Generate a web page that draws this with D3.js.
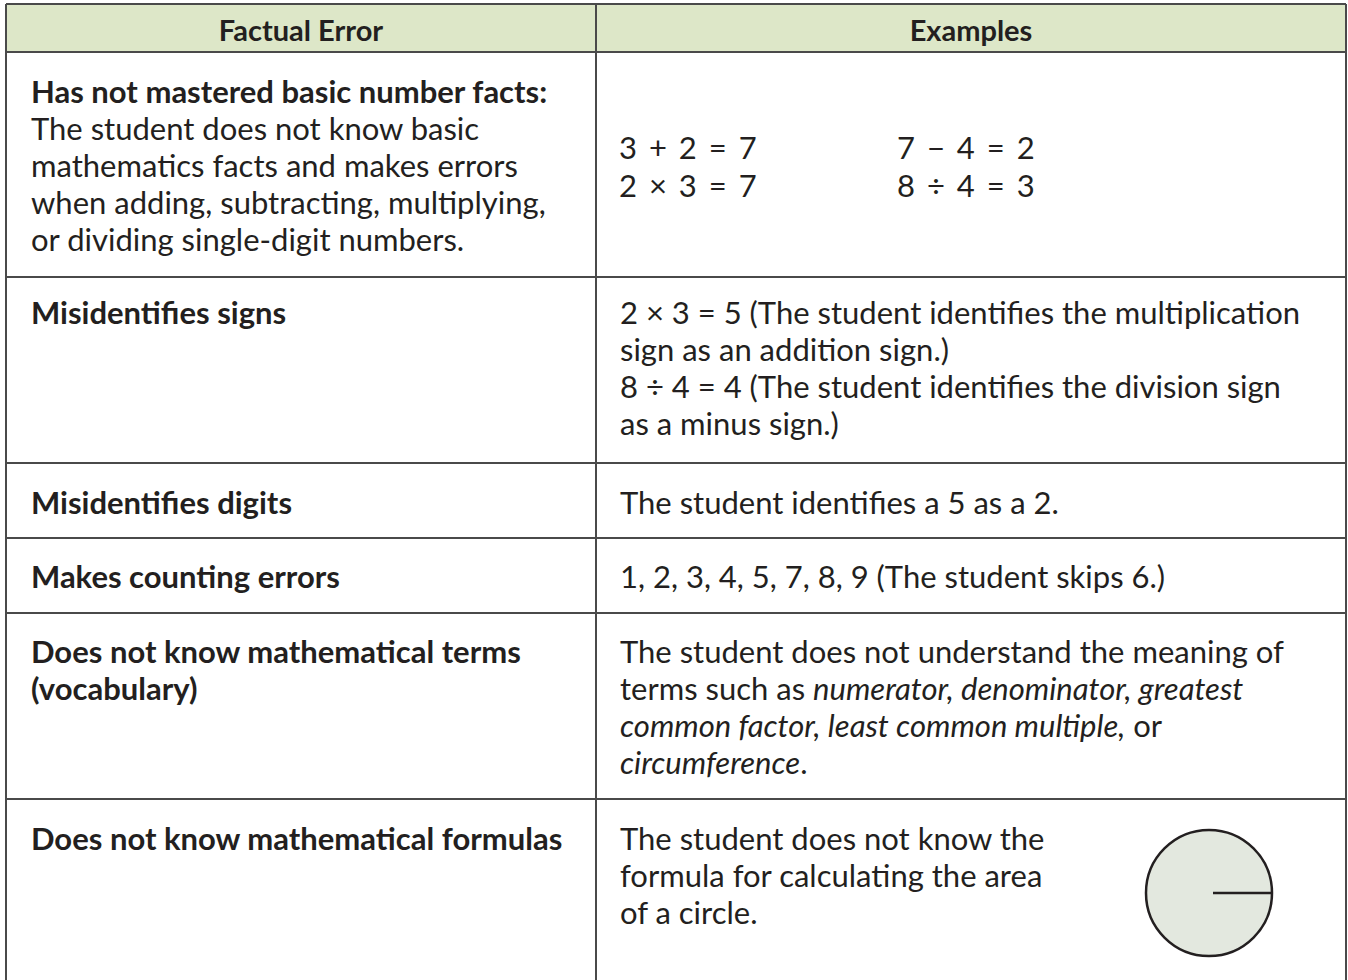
<!DOCTYPE html>
<html>
<head>
<meta charset="utf-8">
<script src="https://cdn.jsdelivr.net/npm/d3@7"></script>
<style>
  html, body { margin: 0; padding: 0; background: #fff; }
  svg { display: block; }
</style>
</head>
<body>
<div id="table"></div>
<script>
// table content
const headers = ["Factual Error", "Examples"];

const errorTitles = [
    ["Has not mastered basic number facts:"],
    ["Misidentifies signs"],
    ["Misidentifies digits"],
    ["Makes counting errors"],
    ["Does not know mathematical terms", "(vocabulary)"],
    ["Does not know mathematical formulas"]
];

const errorNotes = [
    ["The student does not know basic",
     "mathematics facts and makes errors",
     "when adding, subtracting, multiplying,",
     "or dividing single-digit numbers."],
    [], [], [], [], []
];

// *...* marks italic words
const exampleLines = [
    [],
    ["2 × 3 = 5 (The student identifies the multiplication",
     "sign as an addition sign.)",
     "8 ÷ 4 = 4 (The student identifies the division sign",
     "as a minus sign.)"],
    ["The student identifies a 5 as a 2."],
    ["1, 2, 3, 4, 5, 7, 8, 9 (The student skips 6.)"],
    ["The student does not understand the meaning of",
     "terms such as *numerator, denominator, greatest*",
     "*common factor, least common multiple,* or",
     "*circumference*."],
    ["The student does not know the",
     "formula for calculating the area",
     "of a circle."]
];

const factLeft = ["3 + 2 = 7", "2 × 3 = 7"];
const factRight = ["7 − 4 = 2", "8 ÷ 4 = 3"];

// layout
const width = 1348, height = 980;
const rowEdges = [4, 52, 277, 463, 538, 613, 799, 995];
const colEdges = [6, 596, 1346];
const firstBaseline = [103, 324, 514, 588, 663, 850];
const lineH = 37;
const ink = "#231f20";
const font = "Lato, 'Open Sans', sans-serif";

const svg = d3.select("#table")
    .append("svg")
    .attr("width", width)
    .attr("height", height);

// header band
svg.append("rect")
    .attr("x", colEdges[0]).attr("y", rowEdges[0])
    .attr("width", colEdges[2] - colEdges[0])
    .attr("height", rowEdges[1] - rowEdges[0])
    .attr("fill", "#dde7c8");

svg.selectAll(".head")
    .data(headers)
    .enter()
    .append("text")
    .attr("class", "head")
    .attr("x", (d, i) => (colEdges[i] + colEdges[i + 1]) / 2)
    .attr("y", 41)
    .attr("text-anchor", "middle")
    .attr("font-family", font)
    .attr("font-weight", 700)
    .attr("font-size", 29)
    .attr("fill", ink)
    .text(d => d);

// grid lines
const grid = svg.append("g")
    .attr("stroke", "#4a4a4a")
    .attr("stroke-width", 2);

grid.selectAll(".hline")
    .data(rowEdges.slice(0, -1))
    .enter()
    .append("line")
    .attr("x1", colEdges[0]).attr("x2", colEdges[2])
    .attr("y1", d => d).attr("y2", d => d);

grid.selectAll(".vline")
    .data(colEdges)
    .enter()
    .append("line")
    .attr("x1", d => d).attr("x2", d => d)
    .attr("y1", rowEdges[0]).attr("y2", rowEdges[rowEdges.length - 1]);

// first column: bold title + normal notes
errorTitles.forEach((title, r) => {
    const lines = title.map(t => ({ t: t, bold: true }))
        .concat(errorNotes[r].map(t => ({ t: t, bold: false })));
    svg.append("g")
        .selectAll("text")
        .data(lines)
        .enter()
        .append("text")
        .attr("x", colEdges[0] + 25)
        .attr("y", (d, i) => firstBaseline[r] + i * lineH)
        .attr("font-family", font)
        .attr("font-weight", d => d.bold ? 700 : 400)
        .attr("font-size", 31)
        .attr("fill", ink)
        .text(d => d.t);
});

// second column
exampleLines.forEach((lines, r) => {
    const txt = svg.append("g")
        .selectAll("text")
        .data(lines)
        .enter()
        .append("text")
        .attr("x", colEdges[1] + 24)
        .attr("y", (d, i) => firstBaseline[r] + i * lineH)
        .attr("font-family", font)
        .attr("font-size", 31)
        .attr("fill", ink);
    txt.selectAll("tspan")
        .data(d => d.split("*").map((s, k) => ({ s: s, it: k % 2 === 1 })).filter(p => p.s.length))
        .enter()
        .append("tspan")
        .attr("font-style", d => d.it ? "italic" : "normal")
        .text(d => d.s);
});

// basic facts, two columns
[factLeft, factRight].forEach((col, c) => {
    svg.append("g")
        .selectAll("text")
        .data(col)
        .enter()
        .append("text")
        .attr("x", c === 0 ? colEdges[1] + 23 : colEdges[1] + 301)
        .attr("y", (d, i) => 159 + i * 38)
        .attr("font-family", font)
        .attr("font-size", 31)
        .attr("word-spacing", 4)
        .attr("fill", ink)
        .text(d => d);
});

// circle with radius
const cx = 1209, cy = 893, rad = 63;
svg.append("circle")
    .attr("cx", cx).attr("cy", cy).attr("r", rad)
    .attr("fill", "#e3e8df")
    .attr("stroke", ink)
    .attr("stroke-width", 2.5);
svg.append("line")
    .attr("x1", cx + 4).attr("x2", cx + rad)
    .attr("y1", cy).attr("y2", cy)
    .attr("stroke", ink)
    .attr("stroke-width", 2.5);
</script>
</body>
</html>
